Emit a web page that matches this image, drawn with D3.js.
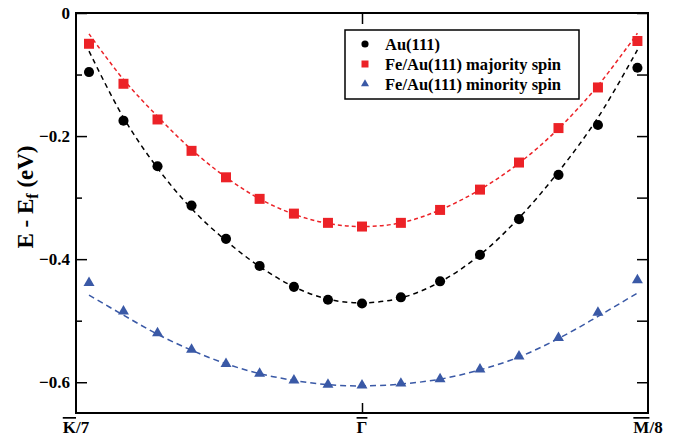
<!DOCTYPE html>
<html>
<head>
<meta charset="utf-8">
<script src="https://cdn.jsdelivr.net/npm/d3@7"></script>
<style>
  body { margin: 0; background: #fff; }
  text { font-family: "Liberation Serif", "Times New Roman", serif; font-weight: bold; }
</style>
</head>
<body>
<div id="chart"></div>
<script>
// k positions along K/7 - Gamma - M/8 (Gamma = 0)
var kx = [-0.9545, -0.834, -0.715, -0.596, -0.4755, -0.358, -0.238, -0.119, 0,
          0.136, 0.273, 0.4125, 0.549, 0.687, 0.825, 0.963];

// measured points
var auPts = [-0.096, -0.175, -0.249, -0.313, -0.367, -0.411, -0.445, -0.466, -0.472,
             -0.462, -0.436, -0.393, -0.335, -0.263, -0.182, -0.089];
var majPts = [-0.050, -0.115, -0.173, -0.224, -0.267, -0.302, -0.326, -0.341, -0.347,
              -0.341, -0.320, -0.287, -0.243, -0.187, -0.121, -0.0455];
var minPts = [-0.4385, -0.4846, -0.520, -0.547, -0.570, -0.586, -0.597, -0.604, -0.605,
              -0.602, -0.595, -0.579, -0.558, -0.528, -0.487, -0.434];

// dashed fit curves, read at the same k
var auFit = [-0.062, -0.170, -0.252, -0.318, -0.370, -0.412, -0.445, -0.465, -0.471,
             -0.463, -0.437, -0.393, -0.333, -0.258, -0.170, -0.060];
var majFit = [-0.034, -0.108, -0.168, -0.222, -0.267, -0.302, -0.327, -0.342, -0.347,
              -0.341, -0.320, -0.287, -0.244, -0.188, -0.118, -0.033];
var minFit = [-0.4585, -0.491, -0.522, -0.548, -0.570, -0.586, -0.597, -0.604, -0.606,
              -0.603, -0.595, -0.580, -0.559, -0.529, -0.493, -0.455];

var seriesNames = ['Au(111)', 'Fe/Au(111) majority spin', 'Fe/Au(111) minority spin'];
var xTickLabels = ['K', '\u0393', 'M'];
var xTickSuffix = ['/7', '', '/8'];
var yMajor = [0, -0.2, -0.4, -0.6];
var yMinor = [-0.1, -0.3, -0.5];

var svgWidth = 681, svgHeight = 440;
var plotLeft = 76, plotRight = 648, plotTop = 13, plotBottom = 413;

var svg = d3.select('#chart')
            .append('svg')
            .attr('width', svgWidth)
            .attr('height', svgHeight);

var x = d3.scaleLinear().domain([-1, 1]).range([plotLeft, plotRight]);
var y = d3.scaleLinear().domain([-0.65, 0]).range([plotBottom, plotTop]);

var series = [
  { name: seriesNames[0], pts: auPts, fit: auFit, color: '#000000', sym: d3.symbolCircle, size: 80, lsize: 40, dash: '5,4' },
  { name: seriesNames[1], pts: majPts, fit: majFit, color: '#ec2227', sym: d3.symbolSquare, size: 100, lsize: 49, dash: '4,3' },
  { name: seriesNames[2], pts: minPts, fit: minFit, color: '#3a59a6', sym: d3.symbolTriangle, size: 52, lsize: 28, dash: '6,4' }
];

// dashed fits
var line = d3.line()
             .x(function(d) { return x(d[0]); })
             .y(function(d) { return y(d[1]); })
             .curve(d3.curveCatmullRom);

series.forEach(function(s) {
  svg.append('path')
     .attr('d', line(d3.zip(kx, s.fit)))
     .attr('fill', 'none')
     .attr('stroke', s.color)
     .attr('stroke-width', 1.5)
     .attr('stroke-dasharray', s.dash);
});

// markers
series.forEach(function(s) {
  svg.append('g').selectAll('path')
     .data(d3.zip(kx, s.pts))
     .enter()
     .append('path')
     .attr('d', d3.symbol().type(s.sym).size(s.size))
     .attr('transform', function(d) { return 'translate(' + x(d[0]) + ',' + y(d[1]) + ')'; })
     .attr('fill', s.color);
});

// axes (ticks pointing inward)
var axisLeft = svg.append('g')
   .attr('transform', 'translate(' + plotLeft + ',0)')
   .call(d3.axisLeft(y).tickValues(yMajor).tickSize(-11).tickPadding(6)
          .tickFormat(function(d) { return d === 0 ? '0' : d3.format('.1f')(d); }));
axisLeft.selectAll('text').attr('font-size', 17).attr('fill', '#000');

svg.append('g')
   .attr('transform', 'translate(' + plotLeft + ',0)')
   .call(d3.axisLeft(y).tickValues(yMinor).tickSize(-6).tickFormat(''));

svg.append('g')
   .attr('transform', 'translate(' + plotRight + ',0)')
   .call(d3.axisRight(y).tickValues(yMajor.concat(yMinor)).tickSize(-11).tickFormat(''));

svg.append('g')
   .attr('transform', 'translate(0,' + plotBottom + ')')
   .call(d3.axisBottom(x).tickValues([0]).tickSize(-10).tickFormat(''));

svg.append('g')
   .attr('transform', 'translate(0,' + plotTop + ')')
   .call(d3.axisTop(x).tickValues([0]).tickSize(-11).tickFormat(''));

svg.selectAll('.domain').remove();
svg.selectAll('.tick line').attr('stroke', '#000').attr('stroke-width', 1.5);

svg.append('rect')
   .attr('x', plotLeft).attr('y', plotTop)
   .attr('width', plotRight - plotLeft).attr('height', plotBottom - plotTop)
   .attr('fill', 'none')
   .attr('stroke', '#000')
   .attr('stroke-width', 2);

// x tick labels with overlines
var xl = svg.selectAll('.xlab')
            .data([-1, 0, 1])
            .enter()
            .append('text')
            .attr('class', 'xlab')
            .attr('x', function(d) { return x(d); })
            .attr('y', 433)
            .attr('text-anchor', 'middle')
            .attr('font-size', 17);
xl.append('tspan')
  .style('text-decoration', 'overline')
  .text(function(d, i) { return xTickLabels[i]; });
xl.append('tspan')
  .text(function(d, i) { return xTickSuffix[i]; });

// y title
var yt = svg.append('text')
            .attr('transform', 'translate(33,197) rotate(-90)')
            .attr('text-anchor', 'middle')
            .attr('font-size', 23);
yt.append('tspan').text('E - E');
yt.append('tspan').attr('font-size', 16).attr('dy', 5).text('f');
yt.append('tspan').attr('dy', -5).text(' (eV)');

// legend
var lg = svg.append('g').attr('transform', 'translate(345,30)');
lg.append('rect')
  .attr('width', 234).attr('height', 69)
  .attr('fill', '#fff')
  .attr('stroke', '#000')
  .attr('stroke-width', 1.5);

var item = lg.selectAll('.legend')
             .data(series)
             .enter()
             .append('g')
             .attr('class', 'legend')
             .attr('transform', function(d, i) { return 'translate(0,' + (14 + i * 20) + ')'; });
item.append('path')
    .attr('d', function(d) { return d3.symbol().type(d.sym).size(d.lsize)(); })
    .attr('transform', 'translate(20,0)')
    .attr('fill', function(d) { return d.color; });
item.append('text')
    .attr('x', 40)
    .attr('y', 5.5)
    .attr('font-size', 16.5)
    .text(function(d) { return d.name; });
</script>
</body>
</html>
